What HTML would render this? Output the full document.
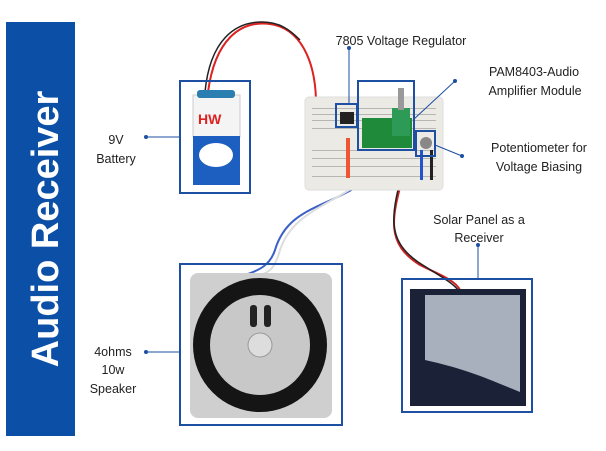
<!DOCTYPE html>
<html><head><style>
body{margin:0;width:606px;height:451px;background:#fff;overflow:hidden}
svg{display:block}
text{font-family:"Liberation Sans",sans-serif;fill:#222;font-size:12.5px}
</style></head><body>
<svg width="606" height="451" viewBox="0 0 606 451">
<rect x="6" y="22" width="69" height="414" fill="#0b4fa6"/>
<text transform="translate(58,229) rotate(-90)" text-anchor="middle" style="font-size:38px;font-weight:bold;fill:#fff">Audio Receiver</text>

<!-- wires -->
<path d="M208 92 C215 40 240 20 270 24 C300 28 315 60 316 100" stroke="#d22" stroke-width="2" fill="none"/>
<path d="M205 92 C210 40 235 22 262 22 C280 22 290 30 300 40" stroke="#222" stroke-width="1.5" fill="none"/>
<path d="M385 165 C340 210 290 200 275 250 C270 265 260 270 245 275" stroke="#3a5fc8" stroke-width="2" fill="none"/>
<path d="M383 162 C345 205 295 205 280 250 C275 268 270 272 260 275" stroke="#ddd" stroke-width="2" fill="none"/>
<path d="M407 160 C395 210 380 240 420 265 C440 275 455 280 460 290" stroke="#c22" stroke-width="2" fill="none"/>
<path d="M405 162 C392 212 384 238 418 262 C438 275 452 282 458 290" stroke="#222" stroke-width="1.5" fill="none"/>

<!-- breadboard -->
<rect x="305" y="97" width="138" height="93" rx="4" fill="#eceae5" stroke="#ddd"/>
<g fill="#b8b6b0">
<rect x="312" y="108" width="124" height="1"/><rect x="312" y="114" width="124" height="1"/>
<rect x="312" y="120" width="124" height="1"/><rect x="312" y="128" width="124" height="1"/>
<rect x="312" y="150" width="124" height="1"/><rect x="312" y="158" width="124" height="1"/>
<rect x="312" y="166" width="124" height="1"/><rect x="312" y="176" width="124" height="1"/>
</g>
<rect x="362" y="118" width="50" height="30" fill="#1f8a3a"/>
<rect x="392" y="108" width="18" height="28" fill="#2d9a55"/>
<rect x="398" y="88" width="6" height="22" fill="#999"/>
<rect x="340" y="112" width="14" height="12" fill="#222"/>
<rect x="346" y="138" width="4" height="40" fill="#ee5533"/>
<circle cx="426" cy="143" r="6" fill="#888"/>
<rect x="420" y="150" width="3" height="30" fill="#2255cc"/>
<rect x="430" y="150" width="3" height="30" fill="#222"/>

<!-- battery -->
<rect x="193" y="95" width="47" height="90" fill="#fff"/>
<rect x="193" y="95" width="47" height="42" fill="#f4f4f4" stroke="#ccc"/>
<rect x="193" y="136" width="47" height="49" fill="#1c5fc0"/>
<ellipse cx="216" cy="155" rx="17" ry="12" fill="#fff"/>
<rect x="197" y="90" width="38" height="8" rx="3" fill="#2a7fb0"/>
<text x="198" y="124" style="font-size:14px;font-weight:bold;fill:#d22">HW</text>

<!-- speaker -->
<rect x="190" y="273" width="142" height="145" rx="8" fill="#cfcfcf"/>
<circle cx="260" cy="345" r="67" fill="#151515"/>
<circle cx="260" cy="345" r="50" fill="#c8c8c8"/>
<circle cx="260" cy="345" r="12" fill="#ddd" stroke="#999"/>
<rect x="250" y="305" width="7" height="22" rx="3" fill="#222"/>
<rect x="264" y="305" width="7" height="22" rx="3" fill="#222"/>

<!-- solar -->
<rect x="410" y="289" width="116" height="117" fill="#1b2238"/>
<path d="M425 295 L520 295 L520 392 C490 380 470 370 425 360 Z" fill="#a8b0bd"/>

<!-- boxes -->
<g fill="none" stroke="#1d4fa3" stroke-width="2">
<rect x="180" y="81" width="70" height="112"/>
<rect x="180" y="264" width="162" height="161"/>
<rect x="402" y="279" width="130" height="133"/>
<rect x="336" y="104" width="21" height="23"/>
<rect x="358" y="81" width="56" height="69"/>
<rect x="416" y="131" width="19" height="25"/>
</g>
<g stroke="#1d4fa3" stroke-width="1" fill="#1d4fa3">
<line x1="146" y1="137" x2="180" y2="137"/><circle cx="146" cy="137" r="1.5"/>
<line x1="146" y1="352" x2="180" y2="352"/><circle cx="146" cy="352" r="1.5"/>
<line x1="349" y1="48" x2="349" y2="104"/><circle cx="349" cy="48" r="1.5"/>
<line x1="455" y1="81" x2="413" y2="120"/><circle cx="455" cy="81" r="1.5"/>
<line x1="462" y1="156" x2="435" y2="145"/><circle cx="462" cy="156" r="1.5"/>
<line x1="478" y1="245" x2="478" y2="279"/><circle cx="478" cy="245" r="1.5"/>
</g>

<g text-anchor="middle">
<text x="116" y="144">9V</text>
<text x="116" y="163">Battery</text>
<text x="113" y="356">4ohms</text>
<text x="113" y="374">10w</text>
<text x="113" y="393">Speaker</text>
<text x="401" y="45">7805 Voltage Regulator</text>
<text x="534" y="76">PAM8403-Audio</text>
<text x="535" y="95">Amplifier Module</text>
<text x="539" y="152">Potentiometer for</text>
<text x="539" y="171">Voltage Biasing</text>
<text x="479" y="224">Solar Panel as a</text>
<text x="479" y="242">Receiver</text>
</g>
</svg>
</body></html>
